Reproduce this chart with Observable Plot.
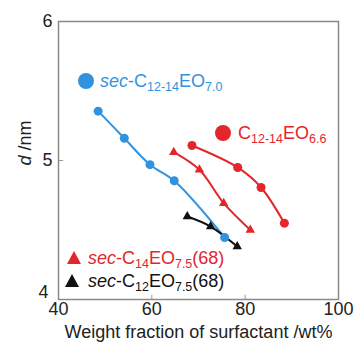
<!DOCTYPE html>
<html>
<head>
<meta charset="utf-8">
<script src="https://cdn.jsdelivr.net/npm/d3@7"></script>
<script src="https://cdn.jsdelivr.net/npm/@observablehq/plot@0.6"></script>
<style>
  html, body { margin: 0; padding: 0; background: #fff; }
  #wrap { position: relative; width: 355px; height: 349px; font-family: "Liberation Sans", Arial, sans-serif; }
  .leg { position: absolute; font-size: 18px; white-space: nowrap; line-height: 1; }
  .leg sub { font-size: 12.5px; vertical-align: -4px; line-height: 0; }
  .leg i { font-style: italic; }
  .sym { position: absolute; }
  .circ { border-radius: 50%; }
  .tri { width: 0; height: 0; border-left: 7px solid transparent; border-right: 7px solid transparent; }
  #ylab { position: absolute; font-size: 18px; left: 25px; top: 143px; transform: translate(-50%, -50%) rotate(-90deg); white-space: nowrap; color: #222; }
</style>
</head>
<body>
<div id="wrap"></div>
<script>
// Data
const blueX = [48.5, 54.1, 59.6, 64.8, 75.6];
const blueY = [5.355, 5.16, 4.97, 4.854, 4.446];
const redCircX = [68.6, 78.4, 83.4, 88.4];
const redCircY = [5.108, 4.95, 4.806, 4.549];
const redTriX = [64.7, 70.2, 75.4, 81.1];
const redTriY = [5.06, 4.933, 4.693, 4.50];
const blackTriX = [67.6, 72.6, 78.3];
const blackTriY = [4.597, 4.525, 4.381];
const xTicks = [40, 60, 80, 100];
const yTicks = [5, 6];
const yTickBottom = [4];

const BLUE = "#3193e0", RED = "#e3262b", BLACK = "#111";

const toRows = (xs, ys) => xs.map((x, i) => ({x, y: ys[i]}));
const blue = toRows(blueX, blueY);
const redC = toRows(redCircX, redCircY);
const redT = toRows(redTriX, redTriY);
const blackT = toRows(blackTriX, blackTriY);

const chart = Plot.plot({
  width: 355,
  height: 349,
  marginLeft: 58,
  marginRight: 17,
  marginTop: 21,
  marginBottom: 50,
  style: {fontFamily: "Liberation Sans, Arial, sans-serif", fontSize: "18px", color: "#222", background: "#fff"},
  x: {domain: [40, 100]},
  y: {domain: [4, 6]},
  marks: [
    Plot.axisX({ticks: xTicks, tickFormat: d => String(d), tickSize: 0, tickPadding: 3, label: null, fontSize: 18}),
    Plot.axisY({ticks: yTicks, tickFormat: d => String(d), tickSize: 0, tickPadding: 6, label: null, fontSize: 18}),
    Plot.axisY({ticks: yTickBottom, tickFormat: d => String(d), tickSize: 0, tickPadding: 10, dy: -7, label: null, fontSize: 18}),
    Plot.ruleX([60, 80], {y1: 4, y2: 4.03, stroke: "#999", strokeWidth: 1}),
    Plot.ruleY([5], {x1: 40, x2: 41.1, stroke: "#999", strokeWidth: 1}),
    Plot.frame({stroke: "#8a8a8a", strokeWidth: 1.5}),
    Plot.line(blue, {x: "x", y: "y", stroke: BLUE, strokeWidth: 2, curve: "catmull-rom"}),
    Plot.line(redC, {x: "x", y: "y", stroke: RED, strokeWidth: 2, curve: "catmull-rom"}),
    Plot.line(redT, {x: "x", y: "y", stroke: RED, strokeWidth: 2, curve: "catmull-rom"}),
    Plot.line(blackT, {x: "x", y: "y", stroke: BLACK, strokeWidth: 2, curve: "catmull-rom"}),
    Plot.dot(blackT, {x: "x", y: "y", symbol: "triangle", r: 3.5, fill: BLACK}),
    Plot.dot(redT, {x: "x", y: "y", symbol: "triangle", r: 3.5, fill: RED}),
    Plot.dot(redC, {x: "x", y: "y", r: 4.5, fill: RED}),
    Plot.dot(blue, {x: "x", y: "y", r: 4.5, fill: BLUE}),
    Plot.text(["Weight fraction of surfactant /wt%"], {frameAnchor: "bottom", dy: 38, fontSize: 18, fill: "#222"})
  ]
});

const wrap = document.getElementById("wrap");
wrap.appendChild(chart);

const ylab = document.createElement("div");
ylab.id = "ylab";
ylab.innerHTML = "<i>d</i> /nm";
wrap.appendChild(ylab);

// Legend entries (labels as rich text with subscripts)
const legend = [
  {html: "<i>sec</i>-C<sub>12-14</sub>EO<sub>7.0</sub>", color: BLUE, kind: "circle", sx: 86, sy: 81, tx: 100},
  {html: "C<sub>12-14</sub>EO<sub>6.6</sub>", color: RED, kind: "circle", sx: 223, sy: 133, tx: 238},
  {html: "<i>sec</i>-C<sub>14</sub>EO<sub>7.5</sub>(68)", color: RED, kind: "tri", sx: 74, sy: 258, tx: 88},
  {html: "<i>sec</i>-C<sub>12</sub>EO<sub>7.5</sub>(68)", color: BLACK, kind: "tri", sx: 72, sy: 281, tx: 88}
];
for (const e of legend) {
  const s = document.createElement("div");
  s.className = "sym " + (e.kind === "circle" ? "circ" : "tri");
  if (e.kind === "circle") {
    s.style.width = "16px"; s.style.height = "16px";
    s.style.left = (e.sx - 8) + "px"; s.style.top = (e.sy - 8) + "px";
    s.style.background = e.color;
  } else {
    s.style.borderBottom = "13px solid " + e.color;
    s.style.left = (e.sx - 7) + "px"; s.style.top = (e.sy - 7) + "px";
  }
  wrap.appendChild(s);
  const t = document.createElement("div");
  t.className = "leg";
  t.innerHTML = e.html;
  t.style.color = e.color;
  t.style.left = e.tx + "px";
  t.style.top = (e.sy - 9) + "px";
  wrap.appendChild(t);
}
</script>
</body>
</html>
